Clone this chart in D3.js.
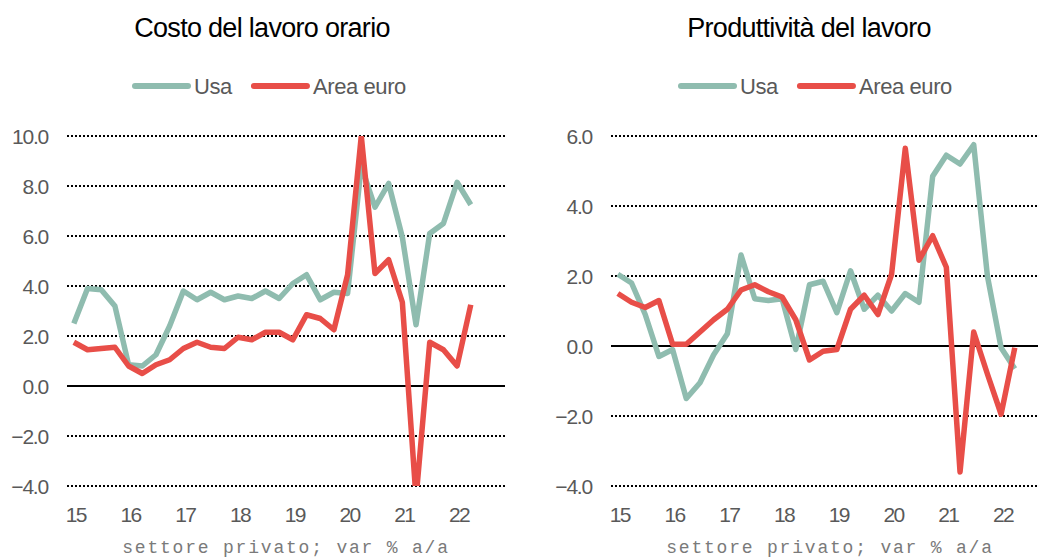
<!DOCTYPE html>
<html>
<head>
<meta charset="utf-8">
<script src="https://cdn.jsdelivr.net/npm/d3@7"></script>
<style>
  body { margin: 0; background: #fff; }
  text { font-family: 'Liberation Sans', Arial, sans-serif; }
</style>
</head>
<body>
<svg width="1038" height="558"></svg>
<script>
// data, quarterly, 2015Q1 - 2022Q2
const years = ['15', '16', '17', '18', '19', '20', '21', '22'];
const quarters = years.flatMap((y) => [y + 'Q1', y + 'Q2', y + 'Q3', y + 'Q4']);

const usaCosto = [2.5, 3.9, 3.85, 3.2, 0.85, 0.8, 1.25, 2.4, 3.8, 3.45, 3.75, 3.45, 3.6, 3.5, 3.8,
  3.5, 4.1, 4.45, 3.45, 3.75, 3.7, 8.8, 7.15, 8.1, 5.95, 2.45, 6.1, 6.5, 8.15, 7.25];
const euroCosto = [1.75, 1.45, 1.5, 1.55, 0.8, 0.5, 0.85, 1.05, 1.5, 1.75, 1.55, 1.5, 1.95, 1.85, 2.15,
  2.15, 1.85, 2.85, 2.7, 2.25, 4.45, 10.0, 4.5, 5.05, 3.35, -4.5, 1.75, 1.45, 0.8, 3.25];

const usaProd = [2.05, 1.8, 0.9, -0.3, -0.1, -1.5, -1.05, -0.25, 0.35, 2.6, 1.35, 1.3, 1.35, -0.1, 1.75,
  1.85, 0.95, 2.15, 1.05, 1.45, 1.0, 1.5, 1.25, 4.85, 5.45, 5.2, 5.75, 2.0, -0.05, -0.65];
const euroProd = [1.5, 1.25, 1.1, 1.3, 0.05, 0.05, 0.4, 0.75, 1.05, 1.6, 1.75, 1.55, 1.4, 0.75, -0.4,
  -0.15, -0.1, 1.05, 1.45, 0.9, 2.05, 5.65, 2.45, 3.15, 2.25, -3.6, 0.4, -0.8, -1.95, -0.05];

const ticksCosto = [-4, -2, 0, 2, 4, 6, 8, 10];
const ticksProd = [-4, -2, 0, 2, 4, 6];
const seriesNames = ['Usa', 'Area euro'];

const colors = { Usa: '#8fbcaf', 'Area euro': '#e84e48' };
const svg = d3.select('svg');

function drawChart(opt) {
  const left = opt.left,
    width = 438,
    top = 136,
    bottom = 486;

  const x = d3.scaleBand().domain(quarters).range([left, left + width]).padding(0);
  const y = d3.scaleLinear().domain(opt.domain).range([bottom, top]);
  const xc = (i) => x(quarters[i]) + x.bandwidth() / 2;

  const g = svg.append('g');

  // title
  g.append('text')
    .attr('x', opt.titleX)
    .attr('y', 37)
    .attr('text-anchor', 'middle')
    .attr('font-size', '27px')
    .style('letter-spacing', '-0.7px')
    .attr('fill', '#000')
    .text(opt.title);

  // legend
  const leg = g.append('g').attr('transform', `translate(${opt.legendX}, 86)`);
  let lx = 0;
  seriesNames.forEach((name) => {
    leg.append('line')
      .attr('x1', lx).attr('x2', lx + 53)
      .attr('y1', 0).attr('y2', 0)
      .attr('stroke', colors[name])
      .attr('stroke-width', 6)
      .attr('stroke-linecap', 'round');
    const t = leg.append('text')
      .attr('x', lx + 59)
      .attr('y', 8)
      .attr('font-size', '22px')
      .style('letter-spacing', '-0.4px')
      .attr('fill', '#595959')
      .text(name);
    lx += 59 + t.node().getComputedTextLength() + 22;
  });

  // grid
  g.selectAll('.grid')
    .data(opt.ticks.filter((d) => d !== 0))
    .enter()
    .append('line')
    .attr('x1', left).attr('x2', left + width)
    .attr('y1', (d) => y(d)).attr('y2', (d) => y(d))
    .attr('stroke', '#000')
    .attr('stroke-width', 2)
    .attr('stroke-dasharray', '2,2');

  g.append('line')
    .attr('x1', left).attr('x2', left + width)
    .attr('y1', y(0)).attr('y2', y(0))
    .attr('stroke', '#000')
    .attr('stroke-width', 2);

  // y tick labels
  g.selectAll('.ytick')
    .data(opt.ticks)
    .enter()
    .append('text')
    .attr('x', left - 19)
    .attr('y', (d) => y(d))
    .attr('dy', '0.36em')
    .attr('text-anchor', 'end')
    .attr('font-size', '21px')
    .style('letter-spacing', '-1.2px')
    .attr('fill', '#595959')
    .text((d) => d3.format('.1f')(d));

  // x tick labels
  g.selectAll('.xtick')
    .data(years)
    .enter()
    .append('text')
    .attr('x', (d) => x(d + 'Q1') + x.bandwidth() / 2 + 2)
    .attr('y', 522)
    .attr('text-anchor', 'middle')
    .attr('font-size', '21px')
    .style('letter-spacing', '-1.5px')
    .attr('fill', '#595959')
    .text((d) => d);

  // footer
  g.append('text')
    .attr('x', left + width / 2)
    .attr('y', 553)
    .attr('text-anchor', 'middle')
    .style('font-family', "'Liberation Mono', 'DejaVu Sans Mono', monospace")
    .attr('font-size', '18px')
    .style('letter-spacing', '1.8px')
    .attr('fill', '#7a7a7a')
    .text('settore privato; var % a/a');

  // clip for the lines
  g.append('clipPath')
    .attr('id', opt.id)
    .append('rect')
    .attr('x', left - 10)
    .attr('y', top)
    .attr('width', width + 20)
    .attr('height', bottom - top);

  const line = d3.line()
    .x((d, i) => xc(i))
    .y((d) => y(d));

  [[opt.usa, 'Usa'], [opt.euro, 'Area euro']].forEach(([values, name]) => {
    g.append('path')
      .datum(values)
      .attr('clip-path', `url(#${opt.id})`)
      .attr('fill', 'none')
      .attr('stroke', colors[name])
      .attr('stroke-width', 5.5)
      .attr('stroke-linejoin', 'round')
      .attr('d', line);
  });
}

drawChart({
  id: 'clipA',
  left: 67,
  domain: [-4, 10],
  ticks: ticksCosto,
  title: 'Costo del lavoro orario',
  titleX: 262,
  legendX: 135,
  usa: usaCosto,
  euro: euroCosto
});

drawChart({
  id: 'clipB',
  left: 611,
  domain: [-4, 6],
  ticks: ticksProd,
  title: 'Produttività del lavoro',
  titleX: 809,
  legendX: 681,
  usa: usaProd,
  euro: euroProd
});
</script>
</body>
</html>
